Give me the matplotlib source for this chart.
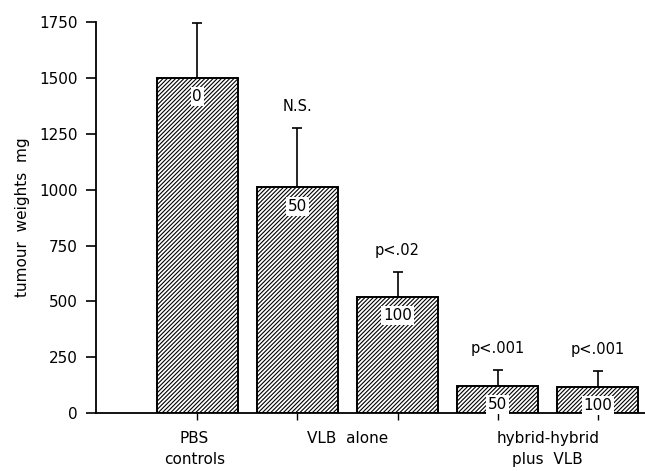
##Tumour weights bar chart

#PACKAGES

import matplotlib
matplotlib.use("Agg")
import matplotlib.pyplot as plt

#DATA

weights = [1500, 1010, 520, 122, 118]
errors = [245, 265, 110, 70, 72]
doses = ["0", "50", "100", "50", "100"]
signif = ["", "N.S.", "p<.02", "p<.001", "p<.001"]
group_labels = ["PBS\ncontrols", "VLB  alone", "hybrid-hybrid\nplus  VLB"]
group_pos = [-0.03, 1.5, 3.5]

#CHART

plt.rcParams["font.family"] = "DejaVu Sans"
plt.rcParams["hatch.linewidth"] = 0.8

fig = plt.figure(figsize=(6.45, 4.71), dpi=100)
ax = fig.add_axes([0.149, 0.123, 0.851, 0.830])

xs = list(range(len(weights)))
ax.bar(xs, weights, width=0.81, color="white", edgecolor="black",
       linewidth=1.4, hatch="////////", zorder=2)
ax.errorbar(xs, weights, yerr=[[0] * len(errors), errors], fmt="none",
            ecolor="black", elinewidth=1.2, capsize=3.5, capthick=1.2, zorder=1)

# dose inside each bar
for x, w, d in zip(xs, weights, doses):
    ax.annotate(d, (x, w), xytext=(0, -13.5), textcoords="offset points",
                ha="center", va="center", fontsize=11, zorder=3,
                bbox=dict(boxstyle="square,pad=0.12", fc="white", ec="none"))

# significance above error bars
for x, w, e, s in zip(xs, weights, errors, signif):
    if s:
        ax.annotate(s, (x, w + e), xytext=(0, 15.5), textcoords="offset points",
                    ha="center", va="center", fontsize=10.5)

ax.set_xlim(-1.01, 4.47)
ax.set_ylim(0, 1750)
ax.set_yticks(range(0, 1751, 250))
ax.tick_params(axis="y", labelsize=11, length=7, width=1.2, pad=6)

# bar ticks without labels, group labels on minor ticks
ax.set_xticks(xs)
ax.set_xticklabels([])
ax.tick_params(axis="x", which="major", length=5, width=1.0)
ax.set_xticks(group_pos, minor=True)
ax.set_xticklabels(group_labels, minor=True, fontsize=11, linespacing=1.5)
ax.tick_params(axis="x", which="minor", length=0, pad=13)

ax.spines["top"].set_visible(False)
ax.spines["right"].set_visible(False)
ax.spines["left"].set_linewidth(1.3)
ax.spines["bottom"].set_linewidth(1.3)

ax.set_ylabel("tumour  weights  mg", fontsize=11)
ax.yaxis.set_label_coords(-0.12, 0.5)

fig.savefig("out.png", dpi=100)
